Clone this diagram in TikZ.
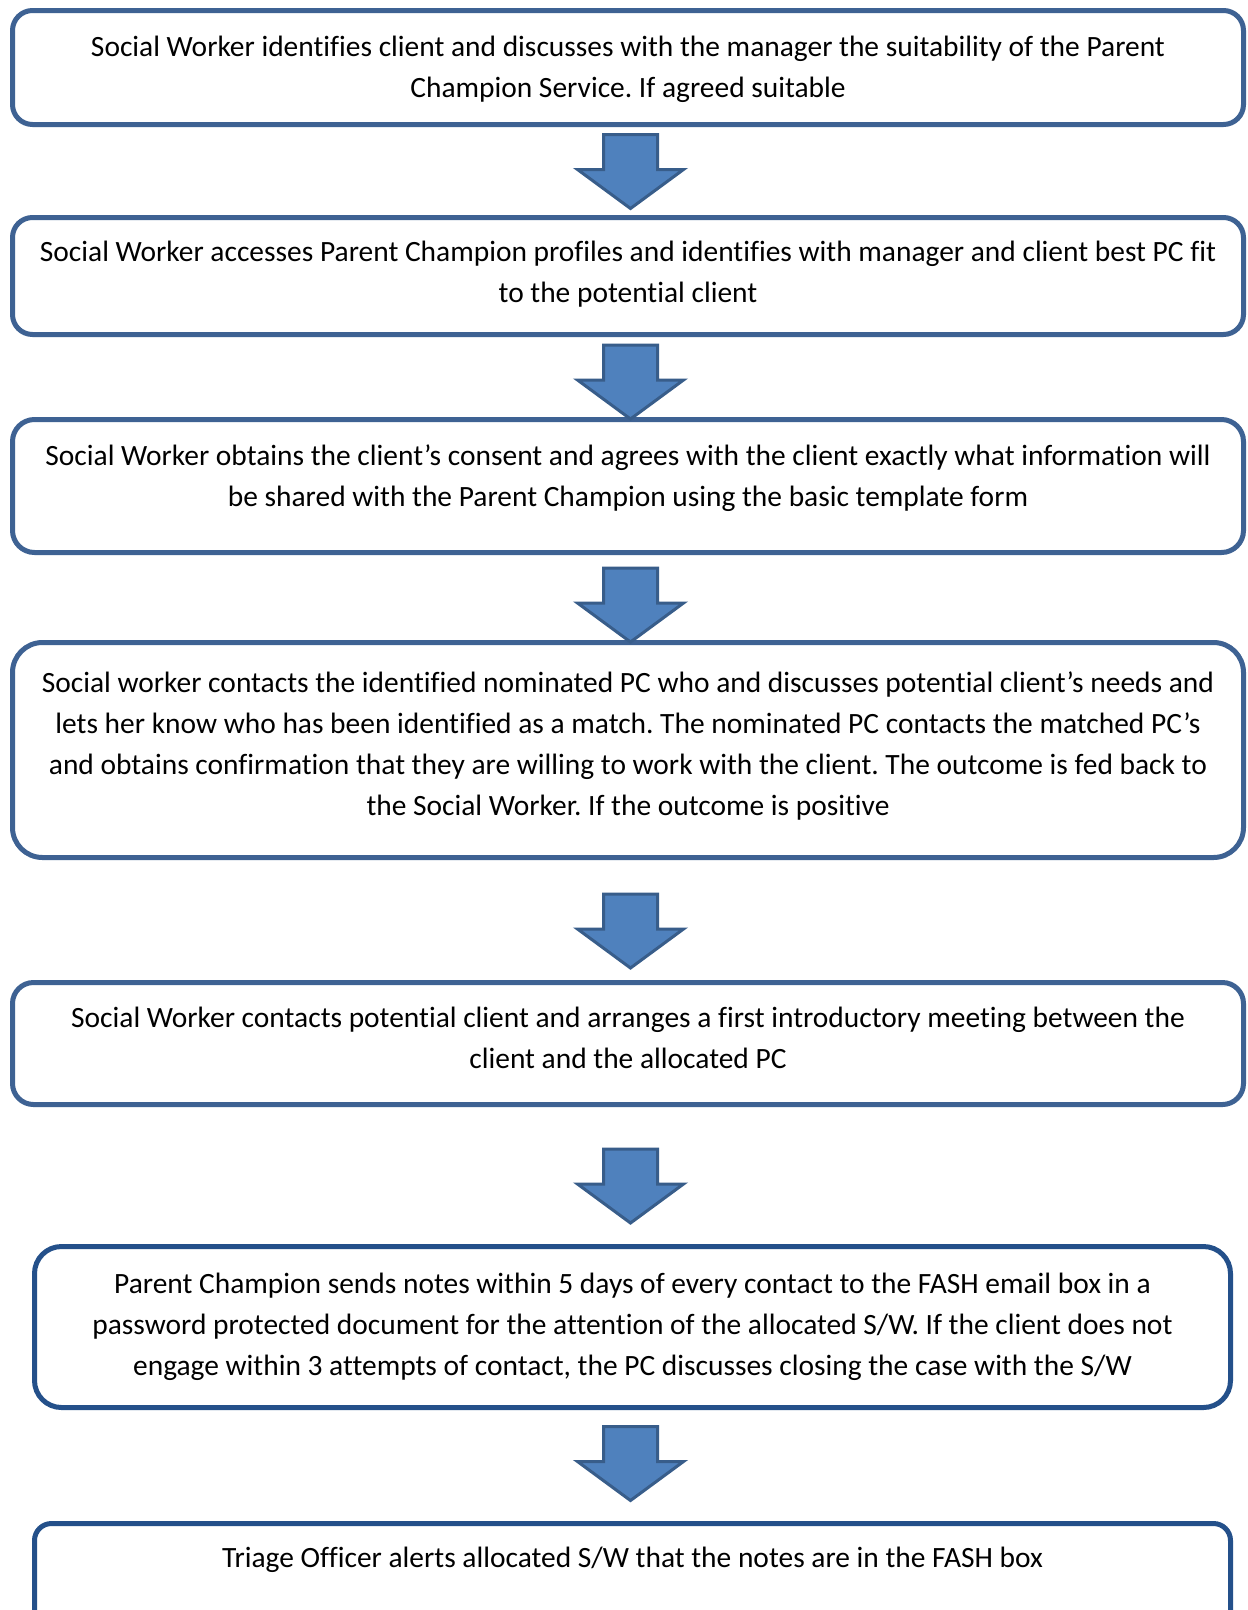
\documentclass[tikz,border=0pt]{standalone}
\usepackage{fontspec}
\setmainfont{Carlito}[Ligatures=NoCommon]
\frenchspacing
\definecolor{boxblue}{HTML}{3E6293}
\definecolor{boxdark}{HTML}{24508A}
\definecolor{arrfill}{HTML}{4F81BD}
\definecolor{arrline}{HTML}{385D8A}
\tikzset{
  stepbox/.style={draw=boxblue, line width=5pt, fill=white, rectangle, inner sep=0pt, rounded corners=#1},
  darkbox/.style={stepbox=#1, draw=boxdark},
  txt/.style={align=center, inner sep=0pt, font=\fontsize{29.45}{41}\selectfont},
  pics/downarrow/.style={code={
    \draw[line width=3pt, draw=arrline, fill=arrfill, line join=miter]
      (-27,0) -- (27,0) -- (27,35) -- (53,35) -- (0,74) -- (-53,35) -- (-27,35) -- cycle;}}
}
\begin{document}
\begin{tikzpicture}[x=1pt,y=-1pt]
\useasboundingbox (0,0) rectangle (1248,1610);
\clip (0,0) rectangle (1248,1610);
\fill[white] (0,0) rectangle (1248,1610);

% boxes
\node[stepbox=20pt, minimum width=1231pt, minimum height=114pt] (b1) at (628,67.5) {};
\node[stepbox=20pt, minimum width=1231pt, minimum height=117pt] (b2) at (628,276) {};
\node[stepbox=22pt, minimum width=1231pt, minimum height=133pt] (b3) at (628,486) {};
\node[stepbox=30pt, minimum width=1231pt, minimum height=215pt] (b4) at (628,750) {};
\node[stepbox=21pt, minimum width=1231pt, minimum height=122pt] (b5) at (628,1043.5) {};
\node[darkbox=27pt, minimum width=1196pt, minimum height=161pt] (b6) at (632.5,1327) {};
\node[darkbox=17pt, minimum width=1196pt, minimum height=117pt] (b7) at (632.5,1582) {};

% texts
\node[txt] (t1) at (628,69.5) {Social Worker identifies client and discusses with the manager the suitability of the Parent\\Champion Service. If agreed suitable};
\node[txt] (t2) at (628,274.5) {Social Worker accesses Parent Champion profiles and identifies with manager and client best PC fit\\to the potential client};
\node[txt] (t3) at (628,478.5) {Social Worker obtains the client’s consent and agrees with the client exactly what information will\\be shared with the Parent Champion using the basic template form};
\node[txt] (t4) at (628,745.5) {Social worker contacts the identified nominated PC who and discusses potential client’s needs and\\lets her know who has been identified as a match. The nominated PC contacts the matched PC’s\\and obtains confirmation that they are willing to work with the client. The outcome is fed back to\\the Social Worker. If the outcome is positive};
\node[txt] (t5) at (628,1037.5) {Social Worker contacts potential client and arranges a first introductory meeting between the\\client and the allocated PC};
\node[txt] (t6) at (632.5,1326.7) {Parent Champion sends notes within 5 days of every contact to the FASH email box in a\\password protected document for the attention of the allocated S/W. If the client does not\\engage within 3 attempts of contact, the PC discusses closing the case with the S/W};
\node[txt] (t7) at (632.5,1560) {Triage Officer alerts allocated S/W that the notes are in the FASH box};

% block arrows
\pic (a1) at (630.5,134.5) {downarrow};
\pic (a2) at (630.5,345) {downarrow};
\pic (a3) at (630.5,568) {downarrow};
\pic (a4) at (630.5,894) {downarrow};
\pic (a5) at (630.5,1149) {downarrow};
\pic (a6) at (630.5,1426.5) {downarrow};
\end{tikzpicture}
\end{document}
